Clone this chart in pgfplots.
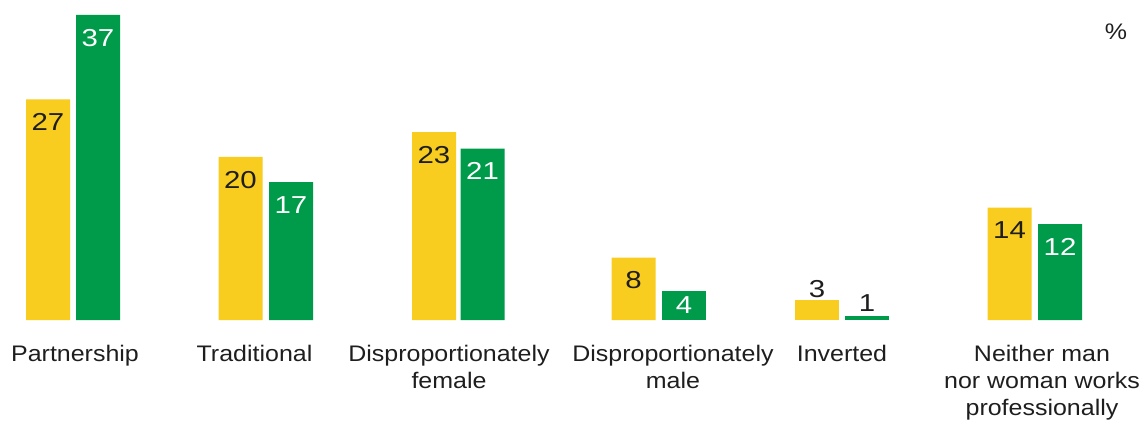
\documentclass[border=0pt]{standalone}
\usepackage{pgfplots}
\pgfplotsset{compat=1.18}
\usepackage{fontspec}
\setmainfont{Liberation Sans}
\newfontfamily\catfamily[FakeStretch=1.11]{Liberation Sans}
\newfontfamily\valfamily[FakeStretch=1.2]{Liberation Sans}
\newcommand\catfont{\catfamily\fontsize{22.5}{27}\selectfont}
\newcommand\valfont{\valfamily\fontsize{24.5}{28}\selectfont}
\definecolor{barYellow}{HTML}{F8CD1F}
\definecolor{barGreen}{HTML}{009A4B}
\definecolor{txt}{HTML}{1E1E1E}

\begin{document}
\begin{tikzpicture}
\useasboundingbox (0,0) rectangle (1141pt,421pt);
\begin{axis}[
    at={(0pt,101pt)}, anchor=south west,
    scale only axis, width=1141pt, height=320pt,
    xmin=0, xmax=1141, ymin=0, ymax=39.02,
    axis line style={draw=none},
    ytick=\empty,
    xtick={75,254.5,449,673,842,1042},
    xticklabels={Partnership, Traditional, {Disproportionately\\female},
        {Disproportionately\\male}, Inverted,
        {Neither man\\nor woman works\\professionally}},
    major tick length=0pt,
    xticklabel style={font=\catfont, text=txt, align=center,
        anchor=north, inner sep=0pt, yshift=-25pt},
    clip=false,
]

% yellow series, labels inside the bars
\addplot[ybar, bar width=44, bar shift=0pt, fill=barYellow, draw=none,
    point meta=explicit symbolic, nodes near coords,
    nodes near coords style={font=\valfont, text=txt, anchor=north,
        inner sep=0pt, yshift=-14pt}]
    table[x=x, y=y, meta=lab] {
x      y    lab
48     26.9 27
240.5  19.9 20
434    22.9 23
633.5  7.6  8
1009.5 13.7 14
};

% green series, labels inside the bars
\addplot[ybar, bar width=44, bar shift=0pt, fill=barGreen, draw=none,
    point meta=explicit symbolic, nodes near coords,
    nodes near coords style={font=\valfont, text=white, anchor=north,
        inner sep=0pt, yshift=-14pt}]
    table[x=x, y=y, meta=lab] {
x      y    lab
98     37.2 37
291    16.8 17
482.5  20.9 21
1060   11.7 12
};

% short green bar, label closer to its top
\addplot[ybar, bar width=44, bar shift=0pt, fill=barGreen, draw=none,
    point meta=explicit symbolic, nodes near coords,
    nodes near coords style={font=\valfont, text=white, anchor=north,
        inner sep=0pt, yshift=-5pt}]
    table[x=x, y=y, meta=lab] {
x      y    lab
684    3.5  4
};

% Inverted: bars too low, labels above
\addplot[ybar, bar width=44, bar shift=0pt, fill=barYellow, draw=none,
    point meta=explicit symbolic, nodes near coords,
    nodes near coords style={font=\valfont, text=txt, anchor=base,
        yshift=3pt}]
    table[x=x, y=y, meta=lab] {
x    y   lab
817  2.4 3
};
\addplot[ybar, bar width=44, bar shift=0pt, fill=barGreen, draw=none,
    point meta=explicit symbolic, nodes near coords,
    nodes near coords style={font=\valfont, text=txt, anchor=base,
        yshift=4pt}]
    table[x=x, y=y, meta=lab] {
x    y   lab
867  0.5 1
};

\node[font=\catfont, text=txt, anchor=base] at (axis cs:1116,34.15) {\%};
\end{axis}
\end{tikzpicture}
\end{document}
